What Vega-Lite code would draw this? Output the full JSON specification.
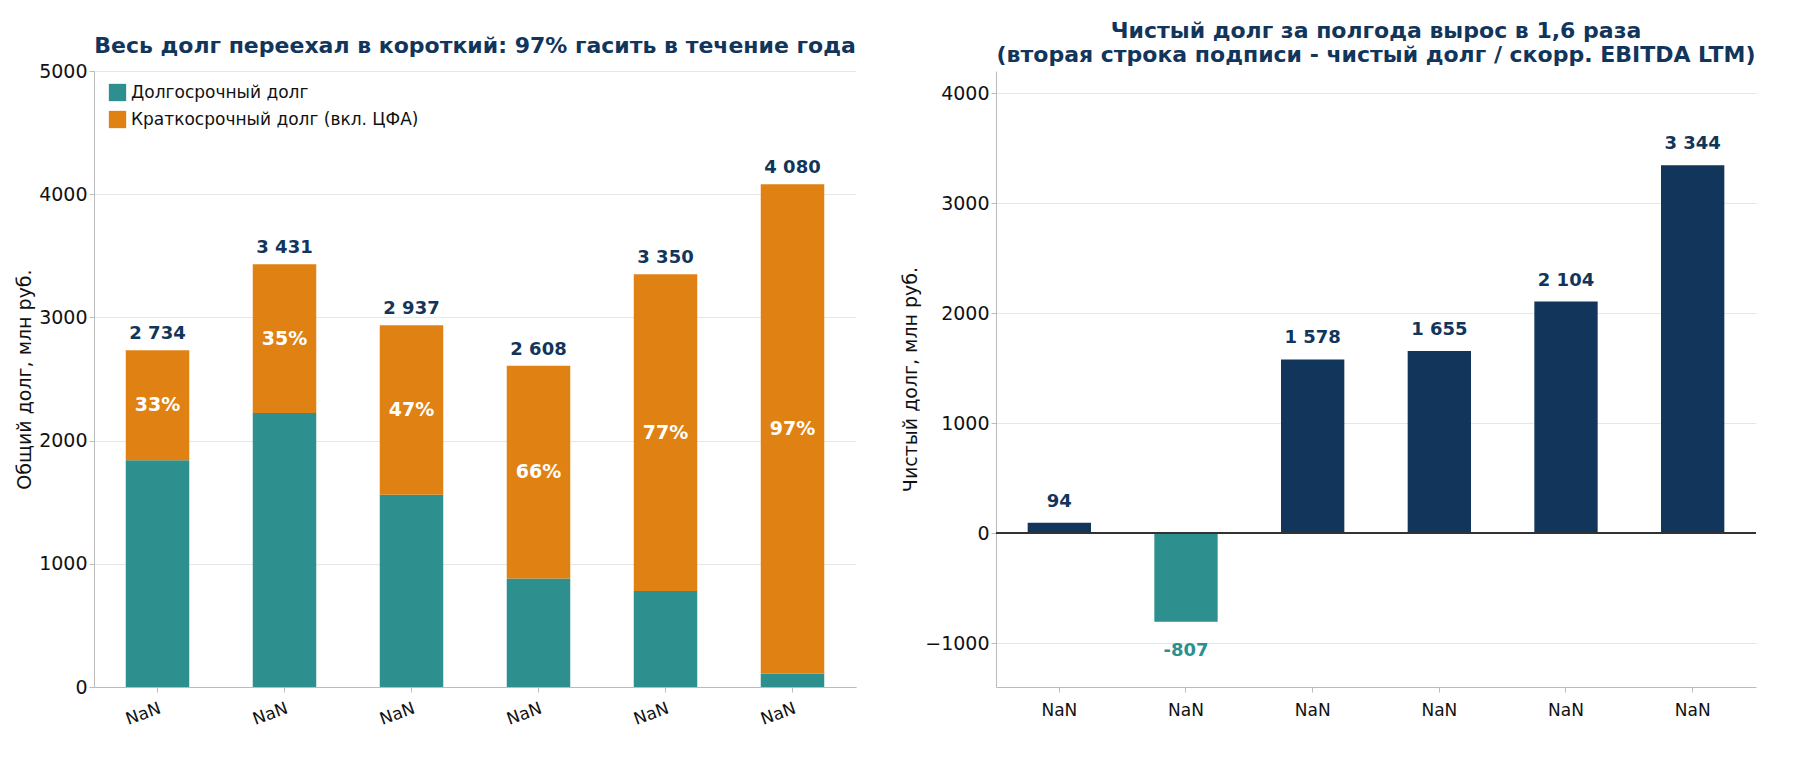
{
  "$schema": "https://vega.github.io/schema/vega-lite/v6.json",
  "background": "white",
  "padding": {"left": 15, "top": 20, "right": 10, "bottom": 5},
  "spacing": 45,
  "config": {
    "font": "DejaVu Sans",
    "view": {"stroke": null},
    "axis": {"labelFontSize": 19, "titleFontSize": 19, "titleFontWeight": "normal", "gridColor": "#e6e6e6", "domainColor": "#bbbbbb", "tickColor": "#bbbbbb", "labelColor": "#111", "titleColor": "#111", "format": "d"},
    "title": {"fontSize": 22, "color": "#12355b", "fontWeight": "bold"}
  },
  "data": {"values": [
    {"date": "31.12.23", "lab": "31.12.23|0.02x", "long": 1840, "total": 2734, "pct": "33%", "totlab": "2 734", "net": 94, "netlab": "94"},
    {"date": "30.06.24", "lab": "30.06.24|-0.19x", "long": 2225, "total": 3431, "pct": "35%", "totlab": "3 431", "net": -807, "netlab": "-807"},
    {"date": "31.12.24", "lab": "31.12.24|0.23x", "long": 1560, "total": 2937, "pct": "47%", "totlab": "2 937", "net": 1578, "netlab": "1 578"},
    {"date": "30.06.25", "lab": "30.06.25|0.23x", "long": 880, "total": 2608, "pct": "66%", "totlab": "2 608", "net": 1655, "netlab": "1 655"},
    {"date": "31.12.25", "lab": "31.12.25|0.25x", "long": 780, "total": 3350, "pct": "77%", "totlab": "3 350", "net": 2104, "netlab": "2 104"},
    {"date": "30.06.26", "lab": "30.06.26|0.38x", "long": 110, "total": 4080, "pct": "97%", "totlab": "4 080", "net": 3344, "netlab": "3 344"}
  ]},
  "hconcat": [
    {
      "width": 762, "height": 616,
      "title": {"text": "Весь долг переехал в короткий: 97% гасить в течение года"},
      "transform": [{"calculate": "(datum.long + datum.total) / 2", "as": "mid"}],
      "encoding": {
        "x": {"field": "date", "type": "nominal", "sort": null, "title": null,
          "scale": {"paddingInner": 0.5, "paddingOuter": 0.25},
          "axis": {"labelAngle": -20, "labelFontSize": 17, "grid": false, "labelPadding": 8}}
      },
      "layer": [
        {"mark": {"type": "bar"},
          "encoding": {
            "y": {"field": "long", "type": "quantitative", "title": "Общий долг, млн руб.", "scale": {"domain": [0, 5000]}, "axis": {"tickCount": 5, "grid": true}},
            "color": {"datum": "Долгосрочный долг", "scale": {"domain": ["Долгосрочный долг", "Краткосрочный долг (вкл. ЦФА)"], "range": ["#2e8f8f", "#e08213"]},
              "legend": {"title": null, "orient": "none", "legendX": 14, "legendY": 12, "labelFontSize": 17, "labelLimit": 0, "symbolType": "square", "symbolSize": 300, "rowPadding": 8, "labelColor": "#111"}}
          }},
        {"mark": {"type": "bar"},
          "encoding": {
            "y": {"field": "long", "type": "quantitative"},
            "y2": {"field": "total"},
            "color": {"datum": "Краткосрочный долг (вкл. ЦФА)"}
          }},
        {"mark": {"type": "text", "fontSize": 19, "fontWeight": "bold", "color": "white"},
          "encoding": {"y": {"field": "mid", "type": "quantitative"}, "text": {"field": "pct"}}},
        {"mark": {"type": "text", "fontSize": 18, "fontWeight": "bold", "color": "#12355b", "baseline": "bottom", "dy": -7},
          "encoding": {"y": {"field": "total", "type": "quantitative"}, "text": {"field": "totlab"}}}
      ]
    },
    {
      "width": 760, "height": 616,
      "title": {"text": ["Чистый долг за полгода вырос в 1,6 раза", "(вторая строка подписи - чистый долг / скорр. EBITDA LTM)"]},
      "encoding": {
        "x": {"field": "lab", "type": "nominal", "sort": null, "title": null,
          "scale": {"paddingInner": 0.5, "paddingOuter": 0.25},
          "axis": {"labelAngle": 0, "labelFontSize": 17, "grid": false, "labelExpr": "split(datum.label, '|')", "labelPadding": 10}}
      },
      "layer": [
        {"mark": {"type": "bar"},
          "encoding": {
            "y": {"field": "net", "type": "quantitative", "title": "Чистый долг, млн руб.", "scale": {"domain": [-1400, 4200], "nice": false}, "axis": {"values": [-1000, 0, 1000, 2000, 3000, 4000], "grid": true}},
            "color": {"condition": {"test": "datum.net < 0", "value": "#2e8f8f"}, "value": "#12355b"}
          }},
        {"mark": {"type": "rule", "color": "#333", "strokeWidth": 1.3},
          "encoding": {"y": {"datum": 0}, "x": null}},
        {"transform": [{"filter": "datum.net >= 0"}],
          "mark": {"type": "text", "fontSize": 18, "fontWeight": "bold", "color": "#12355b", "baseline": "bottom", "dy": -12},
          "encoding": {"y": {"field": "net", "type": "quantitative"}, "text": {"field": "netlab"}}},
        {"transform": [{"filter": "datum.net < 0"}],
          "mark": {"type": "text", "fontSize": 18, "fontWeight": "bold", "color": "#2e8f8f", "baseline": "top", "dy": 20},
          "encoding": {"y": {"field": "net", "type": "quantitative"}, "text": {"field": "netlab"}}}
      ]
    }
  ]
}
